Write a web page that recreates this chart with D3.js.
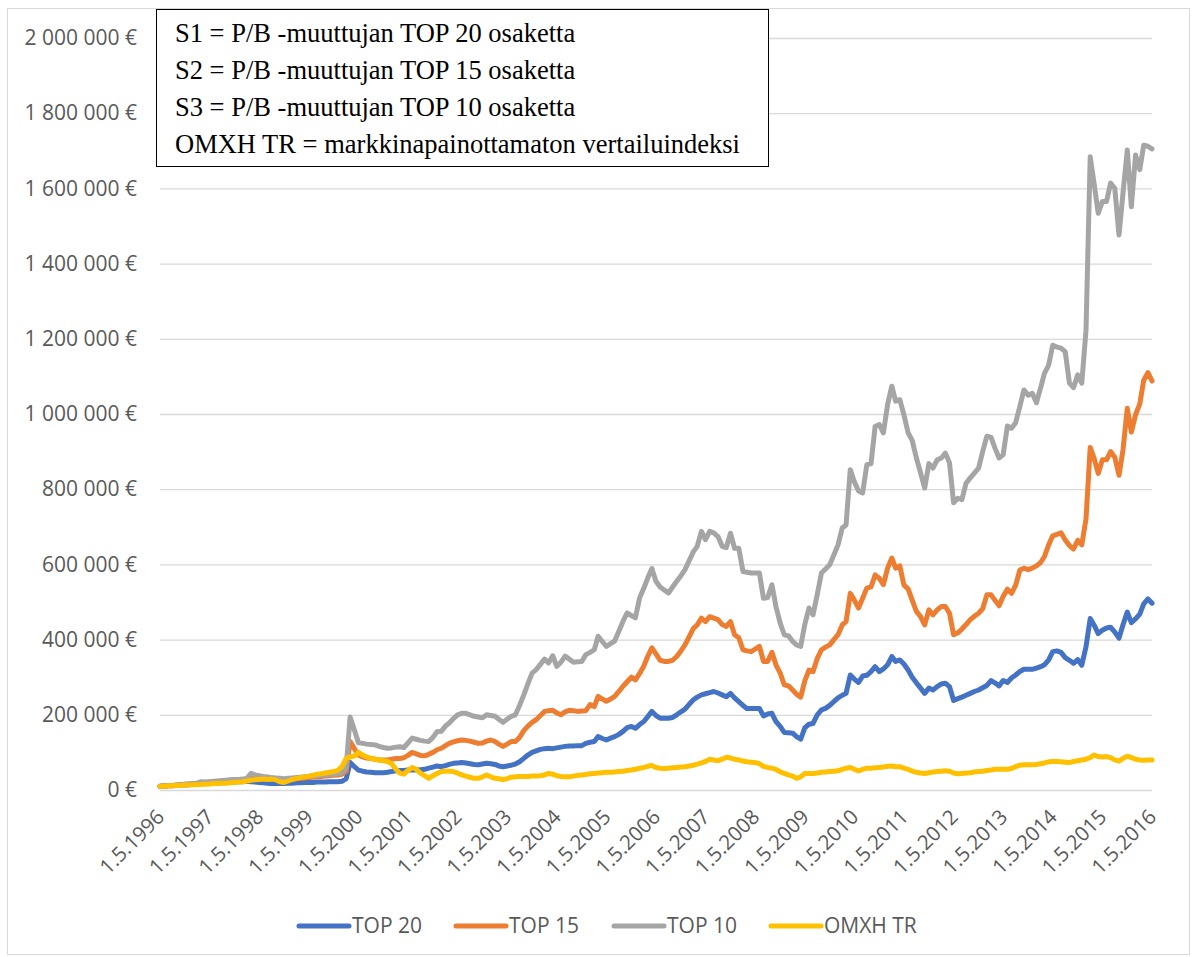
<!DOCTYPE html>
<meta charset="utf-8">
<style>
body { margin: 0; background: #fff; }
svg { display: block; }
.tick text, .legend text { font-family: "Open Sans", sans-serif; fill: #595959; }
</style>
<body>
<script src="https://cdnjs.cloudflare.com/ajax/libs/d3/7.8.5/d3.min.js"></script>
<script>
// monthly values 1.5.1996 .. 1.5.2016, in thousands of euros
var top20K = [
  10, 10, 11, 11, 12, 13, 13, 14, 15, 15, 17, 17,
  18, 19, 19, 20, 20, 21, 21, 22, 22, 23, 22, 21,
  20, 19, 18, 17, 17, 17, 17, 18, 18, 19, 19, 20,
  20, 20, 21, 21, 21, 22, 22, 22, 23, 30, 73, 62,
  53, 50, 48, 47, 46, 46, 46, 47, 49, 51, 52, 52,
  53, 53, 53, 54, 55, 58, 61, 64, 62, 65, 68, 71,
  72, 73, 72, 70, 68, 67, 69, 71, 70, 68, 64, 62,
  64, 66, 69, 75, 84, 93, 100, 104, 108, 110, 111, 110,
  112, 114, 116, 117, 117, 118, 118, 124, 127, 129, 142, 137,
  133, 138, 142, 148, 156, 166, 169, 164, 174, 182, 195, 209,
  198, 191, 191, 191, 193, 200, 208, 215, 228, 240, 247, 253,
  256, 259, 262, 258, 253, 248, 257, 245, 235, 225, 217, 217,
  217, 217, 197, 202, 204, 182, 169, 153, 152, 151, 142, 135,
  165, 175, 177, 200, 213, 217, 225, 235, 245, 252, 257, 306,
  295, 286, 303, 305, 315, 328, 315, 322, 333, 355, 342, 346,
  335, 319, 300, 285, 271, 257, 271, 266, 275, 282, 284, 275,
  238, 243, 247, 252, 257, 262, 266, 272, 278, 291, 285, 277,
  291, 286, 298, 306, 315, 321, 321, 321, 324, 328, 333, 346,
  368, 370, 366, 352, 345, 337, 347, 332, 381, 456, 439, 416,
  425, 431, 433, 420, 404, 440, 473, 445, 455, 468, 495, 508, 497
];
var top15K = [
  10, 11, 11, 12, 13, 14, 15, 16, 17, 18, 20, 20,
  21, 22, 23, 24, 25, 26, 26, 27, 28, 29, 36, 34,
  32, 31, 30, 29, 28, 27, 27, 28, 29, 30, 31, 32,
  33, 34, 35, 36, 37, 38, 39, 40, 42, 50, 129, 110,
  93, 88, 85, 84, 82, 80, 80, 80, 82, 84, 84, 86,
  92, 100, 96, 92, 91, 95, 100, 107, 111, 118, 124, 128,
  131, 133, 132, 130, 127, 124, 125, 130, 133, 129, 122, 116,
  122, 129, 129, 140, 158, 170, 180, 187, 198, 209, 211, 212,
  205, 200, 208, 212, 211, 209, 210, 211, 227, 222, 249, 242,
  236, 242, 249, 262, 276, 288, 300, 293, 310, 330, 355, 378,
  362, 345, 342, 342, 345, 355, 370, 386, 408, 430, 439, 457,
  448, 461, 457, 453, 440, 435, 448, 413, 405, 373, 370, 368,
  375, 382, 342, 342, 366, 333, 311, 280, 277, 266, 255, 247,
  290, 319, 315, 350, 373, 380, 386, 400, 413, 439, 448, 523,
  505, 484, 510, 537, 540, 572, 563, 546, 590, 617, 590, 596,
  545, 535, 505, 475, 461, 439, 479, 466, 479, 488, 488, 470,
  413, 418, 428, 440, 453, 462, 470, 482, 519, 519, 505, 490,
  515, 534, 523, 545, 585, 590, 586, 590, 596, 605, 621, 652,
  676, 680, 684, 665, 650, 641, 664, 652, 721, 911, 883, 842,
  878, 878, 900, 885, 837, 906, 1015, 952, 998, 1027, 1090, 1110, 1088
];
var top10K = [
  10, 11, 12, 12, 13, 14, 15, 16, 17, 19, 22, 21,
  22, 23, 24, 25, 26, 27, 28, 28, 29, 31, 44, 40,
  38, 36, 35, 33, 32, 31, 30, 31, 32, 33, 34, 35,
  36, 37, 38, 39, 40, 41, 42, 44, 46, 60, 194, 160,
  126, 124, 122, 121, 120, 116, 113, 111, 112, 114, 115, 113,
  125, 138, 135, 132, 130, 129, 140, 155, 156, 170, 178, 190,
  200, 204, 204, 200, 196, 194, 192, 200, 198, 196, 188, 180,
  188, 196, 200, 225, 253, 282, 311, 320, 334, 348, 338, 357,
  329, 340, 356, 348, 340, 341, 342, 360, 366, 373, 409, 395,
  382, 389, 396, 422, 449, 471, 464, 458, 511, 537, 563, 589,
  555, 540, 532, 524, 540, 555, 570, 586, 610, 634, 648, 688,
  666, 688, 684, 674, 648, 645, 683, 643, 643, 581, 579, 577,
  577, 577, 510, 512, 546, 488, 444, 413, 410, 395, 386, 382,
  440, 484, 466, 520, 577, 588, 599, 625, 652, 697, 705, 852,
  820, 795, 790, 865, 868, 967, 972, 950, 1025, 1074, 1034, 1038,
  998, 950, 930, 883, 843, 803, 868, 856, 878, 883, 896, 870,
  764, 776, 772, 816, 830, 843, 856, 900, 941, 938, 910, 883,
  892, 968, 962, 977, 1020, 1064, 1050, 1055, 1030, 1070, 1108, 1130,
  1183, 1178, 1175, 1166, 1082, 1070, 1104, 1082, 1223, 1684, 1614, 1534,
  1565, 1565, 1614, 1600, 1476, 1590, 1702, 1551, 1689, 1650, 1715, 1712, 1705
];
var omxhK = [
  10, 10, 11, 11, 12, 12, 13, 13, 14, 14, 15, 15,
  16, 17, 17, 18, 18, 19, 20, 21, 22, 24, 26, 27,
  28, 29, 28, 29, 27, 22, 20, 24, 28, 31, 33, 35,
  37, 39, 42, 43, 45, 47, 49, 52, 62, 84, 88, 90,
  100, 93, 88, 84, 82, 80, 78, 76, 70, 55, 45, 42,
  52, 60, 55, 45, 38, 31, 38, 44, 49, 50, 50, 49,
  45, 40, 37, 34, 31, 31, 35, 40, 35, 31, 30, 28,
  30, 34, 35, 36, 36, 36, 37, 37, 38, 40, 44, 42,
  38, 36, 35, 35, 37, 39, 40, 41, 43, 44, 45, 46,
  47, 47, 48, 49, 50, 52, 53, 55, 58, 60, 63, 65,
  60, 58, 57, 58, 59, 60, 61, 62, 64, 66, 69, 72,
  76, 82, 80, 78, 82, 87, 85, 82, 80, 77, 75, 74,
  73, 70, 63, 60, 58, 55, 48, 44, 40, 37, 31, 35,
  44, 44, 44, 45, 47, 48, 49, 50, 51, 55, 58, 60,
  55, 51, 55, 58, 58, 59, 60, 61, 63, 64, 62, 62,
  58, 55, 50, 47, 45, 44, 46, 48, 49, 50, 51, 50,
  45, 43, 44, 45, 46, 48, 49, 50, 52, 53, 55, 55,
  55, 55, 57, 62, 66, 67, 67, 67, 68, 70, 72, 75,
  76, 76, 75, 74, 73, 76, 78, 80, 82, 86, 93, 89,
  88, 89, 86, 80, 77, 84, 90, 86, 82, 80, 79, 80, 80
];

var seriesNames = ["TOP 20", "TOP 15", "TOP 10", "OMXH TR"];
var seriesColors = ["#4472c4", "#ed7d31", "#a5a5a5", "#ffc000"];
var noteLines = [
  "S1 = P/B -muuttujan TOP 20 osaketta",
  "S2 = P/B -muuttujan TOP 15 osaketta",
  "S3 = P/B -muuttujan TOP 10 osaketta",
  "OMXH TR = markkinapainottamaton vertailuindeksi"
];
var yTicks = d3.range(0, 2000001, 200000);

var W = 1197, H = 957;
var months = d3.timeMonth.range(new Date(1996, 4, 1), new Date(2016, 5, 1));
var yearTicks = months.filter(function(d, i) { return i % 12 === 0; });
var allSeries = [top20K, top15K, top10K, omxhK];

var fi = d3.formatLocale({decimal: ",", thousands: "\u00a0", grouping: [3], currency: ["", "\u00a0€"]});
var fmtEur = fi.format("$,");
var fmtDate = function(d) { return d.getDate() + "." + (d.getMonth() + 1) + "." + d.getFullYear(); };

var svg = d3.select("body").append("svg")
  .attr("width", W)
  .attr("height", H);

svg.append("rect")
  .attr("x", 7.5).attr("y", 8.5)
  .attr("width", 1182).attr("height", 946)
  .attr("fill", "#fff")
  .attr("stroke", "#d9d9d9");

var x = d3.scaleTime().domain([months[0], months[months.length - 1]]).range([160, 1152]);
var y = d3.scaleLinear().domain([0, 2000000]).range([790, 38]);

// gridlines + y labels
var yAxis = d3.axisLeft(y).tickValues(yTicks).tickSize(-(1152 - 160)).tickPadding(23).tickFormat(fmtEur);
var gy = svg.append("g").attr("transform", "translate(160,0)").call(yAxis);
gy.select(".domain").remove();
gy.selectAll(".tick line").attr("stroke", "#d9d9d9").attr("stroke-width", 1.3);
gy.selectAll(".tick text").attr("font-size", 21);

// x labels
var xAxis = d3.axisBottom(x).tickValues(yearTicks).tickSize(0).tickFormat(fmtDate);
var gx = svg.append("g").attr("transform", "translate(0,790)").call(xAxis);
gx.select(".domain").remove();
gx.selectAll(".tick text")
  .attr("font-size", 20.5)
  .attr("text-anchor", "end")
  .attr("y", 0).attr("dy", "0.35em")
  .attr("transform", "translate(0,23) rotate(-45)");

// lines
var line = d3.line()
  .x(function(d, i) { return x(months[i]); })
  .y(function(d) { return y(d * 1000); });

svg.append("g").selectAll("path")
  .data(allSeries)
  .join("path")
  .attr("d", line)
  .attr("fill", "none")
  .attr("stroke", function(d, i) { return seriesColors[i]; })
  .attr("stroke-width", 5)
  .attr("stroke-linejoin", "round")
  .attr("stroke-linecap", "round");

// note box
var note = svg.append("g");
note.append("rect")
  .attr("x", 156.5).attr("y", 9.5)
  .attr("width", 612).attr("height", 157)
  .attr("fill", "#fff")
  .attr("stroke", "#000")
  .attr("stroke-width", 1);
note.selectAll("text")
  .data(noteLines)
  .join("text")
  .attr("x", 175)
  .attr("y", function(d, i) { return 42 + i * 36.9; })
  .attr("font-family", "'Liberation Serif', 'Times New Roman', serif")
  .attr("font-size", 26.5)
  .attr("fill", "#000")
  .text(function(d) { return d; });

// legend
var legendX = [297, 454, 612, 769];
var legend = svg.append("g").attr("class", "legend");
var item = legend.selectAll("g")
  .data(seriesNames)
  .join("g")
  .attr("transform", function(d, i) { return "translate(" + legendX[i] + ",926)"; });
item.append("line")
  .attr("x1", 2).attr("x2", 52)
  .attr("stroke", function(d, i) { return seriesColors[i]; })
  .attr("stroke-width", 5)
  .attr("stroke-linecap", "round");
item.append("text")
  .attr("x", 55)
  .attr("dy", "0.35em")
  .attr("font-size", 21)
  .text(function(d) { return d; });
</script>
</body>
